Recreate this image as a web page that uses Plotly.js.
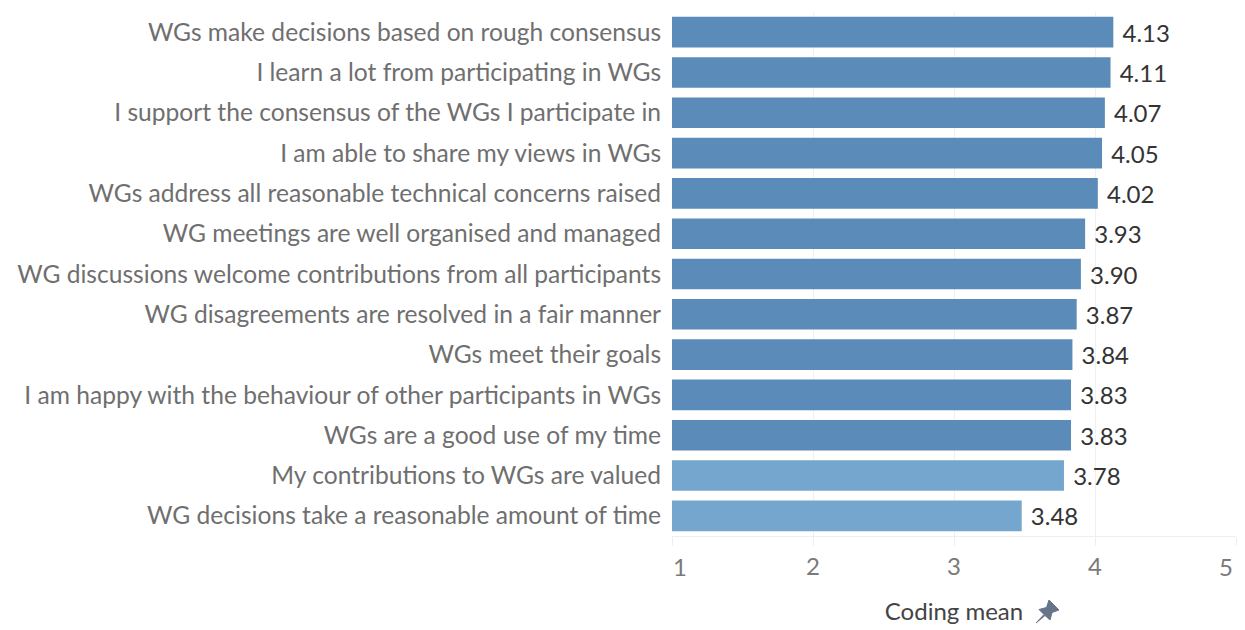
<!DOCTYPE html>
<html>
<head>
<meta charset="utf-8">
<script src="https://cdn.plot.ly/plotly-3.0.1.min.js"></script>
<style>html,body{margin:0;padding:0;background:#fff}#chart{width:1245px;height:630px}#chart text{font-variant-ligatures:none}</style>
</head>
<body>
<div id="chart"></div>
<script>
const categories = [
  "WGs make decisions based on rough consensus",
  "I learn a lot from participating in WGs",
  "I support the consensus of the WGs I participate in",
  "I am able to share my views in WGs",
  "WGs address all reasonable technical concerns raised",
  "WG meetings are well organised and managed",
  "WG discussions welcome contributions from all participants",
  "WG disagreements are resolved in a fair manner",
  "WGs meet their goals",
  "I am happy with the behaviour of other participants in WGs",
  "WGs are a good use of my time",
  "My contributions to WGs are valued",
  "WG decisions take a reasonable amount of time"
];
const values = [4.13, 4.11, 4.07, 4.05, 4.02, 3.93, 3.90, 3.87, 3.84, 3.83, 3.83, 3.78, 3.48];
const barColors = ["#5b8bb8","#5b8bb8","#5b8bb8","#5b8bb8","#5b8bb8","#5b8bb8","#5b8bb8","#5b8bb8","#5b8bb8","#5b8bb8","#5b8bb8","#75a6cd","#75a6cd"];
const tickValues = [1, 2, 3, 4, 5];
const tickLabels = ["", "2", "3", "4", ""];
const axisTitle = "Coding mean";
const fontFamily = "Lato, 'Open Sans', sans-serif";
const tickFont = {family: fontFamily, size: 24, color: "#7a7a7a"};

Plotly.newPlot("chart", [{
  type: "bar",
  orientation: "h",
  y: categories,
  x: values,
  marker: {color: barColors},
  text: values.map(v => "\u00a0" + v.toFixed(2)),
  textposition: "outside",
  cliponaxis: false,
  textfont: {family: fontFamily, size: 24, color: "#333333"},
  hoverinfo: "x+y"
}], {
  width: 1245,
  height: 630,
  margin: {l: 672, r: 9, t: 12, b: 94, pad: 0},
  paper_bgcolor: "#ffffff",
  plot_bgcolor: "#ffffff",
  showlegend: false,
  bargap: 0.24,
  font: {family: fontFamily},
  xaxis: {
    range: [1, 5],
    tickmode: "array",
    tickvals: tickValues,
    ticktext: tickLabels,
    ticks: "outside",
    ticklen: 9,
    tickcolor: "#eeeeee",
    tickwidth: 1,
    showgrid: true,
    gridcolor: "#f0f0f0",
    gridwidth: 1,
    showline: true,
    linecolor: "#eeeeee",
    zeroline: false,
    tickfont: tickFont,
    title: {text: axisTitle, font: {family: fontFamily, size: 24, color: "#444444"}, standoff: 24}
  },
  yaxis: {
    type: "category",
    autorange: false,
    range: [12.5, -0.5],
    ticks: "outside",
    ticklen: 5,
    tickcolor: "rgba(0,0,0,0)",
    showgrid: false,
    zeroline: false,
    showline: false,
    tickfont: {family: fontFamily, size: 24.6, color: "#6f6f6f"}
  },
  annotations: [
    {text: String(tickValues[0]), x: tickValues[0], xref: "x", y: 0, yref: "paper", yanchor: "top", xshift: 8, yshift: -14, showarrow: false, font: tickFont},
    {text: String(tickValues[4]), x: tickValues[4], xref: "x", y: 0, yref: "paper", yanchor: "top", xshift: -10, yshift: -14, showarrow: false, font: tickFont}
  ],
  shapes: [{
    type: "path",
    xref: "paper", yref: "paper",
    xsizemode: "pixel", ysizemode: "pixel",
    xanchor: 1, yanchor: 0,
    path: "M -200 -87 L -192 -78.5 L -197 -73.5 L -189.5 -71.5 L -187 -64 L -177 -74 L -184 -76.5 L -186 -84 L -191 -79.5 Z",
    fillcolor: "#66758a",
    line: {width: 1, color: "#66758a"}
  }]
}, {displayModeBar: false});
</script>
</body>
</html>
